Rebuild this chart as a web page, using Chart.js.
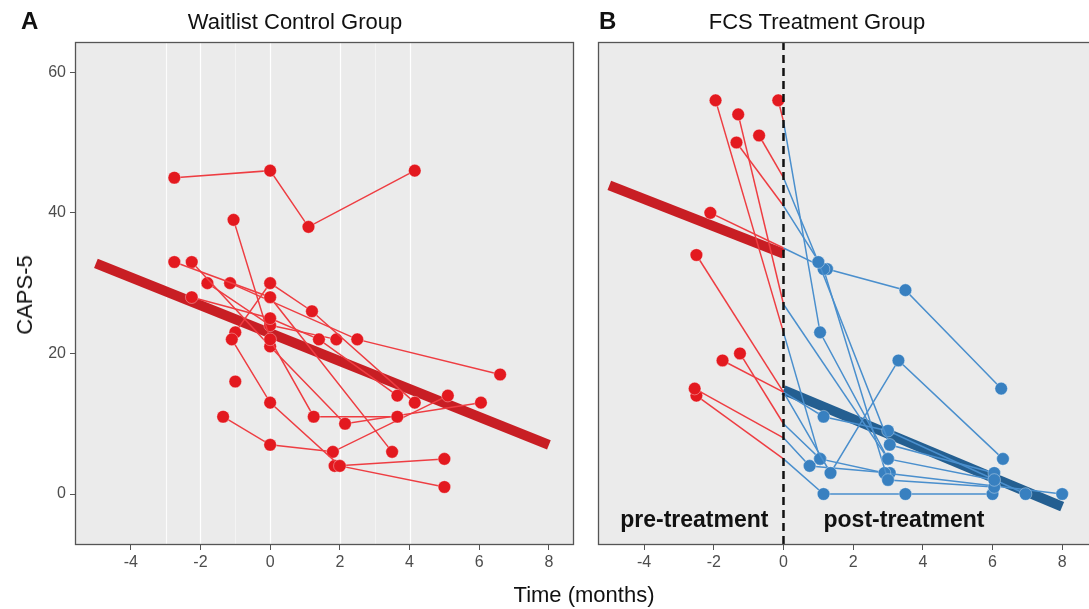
<!DOCTYPE html>
<html>
<head>
<meta charset="utf-8">
<script src="https://cdn.jsdelivr.net/npm/chart.js@4.4.0/dist/chart.umd.min.js"></script>
<style>
  html, body { margin: 0; padding: 0; background: #fff; width: 1089px; height: 609px; overflow: hidden;
    font-family: "Liberation Sans", Arial, sans-serif; }
  .wrap { position: absolute; top: 0; height: 609px; }
  .lbl { position: absolute; white-space: nowrap; color: #111; line-height: 1; }
</style>
</head>
<body>
<div class="wrap" style="left:0;width:580px"><canvas id="ctrl"></canvas></div>
<div class="wrap" style="left:597px;width:500px"><canvas id="fcs"></canvas></div>

<div class="lbl" style="left:21px;top:9px;font-weight:bold;font-size:24px">A</div>
<div class="lbl" style="left:295px;top:11px;font-size:22px;transform:translateX(-50%)">Waitlist Control Group</div>
<div class="lbl" style="left:599px;top:9px;font-weight:bold;font-size:24px">B</div>
<div class="lbl" style="left:817px;top:11px;font-size:22px;transform:translateX(-50%)">FCS Treatment Group</div>
<div class="lbl" style="left:25px;top:295px;font-size:22px;transform:translate(-50%,-50%) rotate(-90deg)">CAPS-5</div>
<div class="lbl" style="left:584px;top:584px;font-size:22px;transform:translateX(-50%)">Time (months)</div>

<script>
// ── values ─────────────────────────────────────────────────────
const xTicks = [-4, -2, 0, 2, 4, 6, 8];
const yTicks = [0, 20, 40, 60];

// faint white vertical rules that show in panel A
const waitlistGridX = [-3, -2, -1, 0, 2, 3, 4];
const waitlistGridAlpha = [0.85, 1, 0.45, 1, 1, 0.45, 1];

// Waitlist control: one array of [months, CAPS-5] per participant
const waitlistSubjects = [
  [[-2.75, 45], [0, 46], [1.1, 38], [4.15, 46]],
  [[-1.05, 39], [0, 22], [1.25, 11], [3.65, 11]],
  [[-1.1, 22], [0, 13], [2.0, 4], [5, 1]],
  [[-1.35, 11], [0, 7], [1.8, 6], [5.1, 14]],
  [[-1, 16]],
  [[-1, 23], [0, 30], [1.2, 26], [4.15, 13]],
  [[-2.25, 28], [0, 25], [1.4, 22], [3.65, 14]],
  [[-2.75, 33], [0, 28], [3.5, 6]],
  [[-2.25, 33], [0, 21], [2.15, 10], [6.05, 13]],
  [[-1.8, 30], [0, 24], [1.9, 22]],
  [[-1.15, 30], [2.5, 22], [6.6, 17]],
  [[1.85, 4], [5, 5]],
];
const waitlistFit = [[-5, 32.8], [8, 7.0]];

// FCS group: pre-treatment (red) runs up to the treatment start at 0
const fcsPreSubjects = [
  [[-1.95, 56], [0, 23]],
  [[-0.15, 56], [0, 53]],
  [[-1.3, 54], [0, 27]],
  [[-0.7, 51], [0, 45]],
  [[-1.35, 50], [0, 41]],
  [[-2.1, 40], [0, 35]],
  [[-2.5, 34], [0, 14.5]],
  [[-1.75, 19], [0, 14.5]],
  [[-1.25, 20], [0, 10]],
  [[-2.55, 15], [0, 8]],
  [[-2.5, 14], [0, 5]],
];
// post-treatment (blue) from treatment start on
const fcsPostSubjects = [
  [[0, 53], [1.05, 23], [3.0, 5], [6.05, 2]],
  [[0, 45], [1.0, 33], [3.05, 7], [6.05, 3]],
  [[0, 41], [1.15, 32], [3.0, 2], [6.05, 1]],
  [[0, 35], [1.25, 32], [3.5, 29], [6.25, 15]],
  [[0, 14.5], [1.15, 11], [3.0, 9], [6.95, 0]],
  [[0, 14.5], [1.35, 3], [3.3, 19], [6.3, 5]],
  [[0, 10], [1.05, 5], [2.9, 3], [8, 0]],
  [[0, 8], [0.75, 4], [3.05, 3]],
  [[0, 5], [1.15, 0], [3.5, 0], [6.0, 0]],
  [[0, 23], [1.05, 5]],
  [[0, 27], [3.0, 5]],
];
const fcsPreFit = [[-5, 43.9], [0, 34.2]];
const fcsPostFit = [[0, 14.8], [8, -1.8]];

// ── styling ────────────────────────────────────────────────────
const RED = "#E3191F", RED_LINE = "#EE3D42", RED_FIT = "#C81E24";
const BLUE = "#3880C0", BLUE_LINE = "#4A8FCD", BLUE_FIT = "#245F91";
const FONT = '"Liberation Sans", Arial, sans-serif';
Chart.defaults.font.family = FONT;

function subjectSets(list, dot, line, hideStart) {
  return list.map((pts) => ({
    data: pts.map(([x, y]) => ({ x, y })),
    showLine: true,
    borderColor: line,
    borderWidth: 1.5,
    backgroundColor: dot,
    pointBorderColor: "rgba(255,255,255,0.35)",
    pointBorderWidth: 1,
    // treatment-start anchors in panel B carry no dot
    pointRadius: pts.map(([x]) => (hideStart && x === 0 ? 0 : 6.3)),
    order: 0,
  }));
}

function fitSet(pts, color) {
  return {
    data: pts.map(([x, y]) => ({ x, y })),
    showLine: true,
    borderColor: color,
    borderWidth: 10,
    pointRadius: 0,
    order: 1,
  };
}

const panelPlugin = {
  id: "panel",
  beforeDraw(chart, args, opts) {
    const { ctx, chartArea: a } = chart;
    const xs = chart.scales.x;
    ctx.save();
    ctx.fillStyle = "#EBEBEB";
    ctx.fillRect(a.left, a.top, a.right - a.left, a.bottom - a.top);
    (opts.gridX || []).forEach((v, i) => {
      const px = Math.round(xs.getPixelForValue(v)) + 0.5;
      ctx.strokeStyle = `rgba(255,255,255,${opts.gridAlpha[i]})`;
      ctx.lineWidth = 1.2;
      ctx.beginPath();
      ctx.moveTo(px, a.top);
      ctx.lineTo(px, a.bottom);
      ctx.stroke();
    });
    ctx.restore();
  },
  afterDatasetsDraw(chart, args, opts) {
    const { ctx, chartArea: a } = chart;
    const xs = chart.scales.x, ys = chart.scales.y;
    ctx.save();
    if (opts.divider != null) {
      const px = xs.getPixelForValue(opts.divider);
      ctx.strokeStyle = "#111";
      ctx.lineWidth = 2.5;
      ctx.setLineDash([8, 5]);
      ctx.beginPath();
      ctx.moveTo(px, a.top);
      ctx.lineTo(px, a.bottom);
      ctx.stroke();
      ctx.setLineDash([]);
    }
    (opts.notes || []).forEach((n) => {
      ctx.font = `bold 23px ${FONT}`;
      ctx.fillStyle = "#111";
      ctx.textAlign = "center";
      ctx.textBaseline = "middle";
      ctx.fillText(n.text, xs.getPixelForValue(n.x), ys.getPixelForValue(n.y));
    });
    ctx.restore();
  },
  afterDraw(chart) {
    const { ctx, chartArea: a } = chart;
    ctx.save();
    ctx.strokeStyle = "#555";
    ctx.lineWidth = 1.3;
    ctx.strokeRect(a.left + 0.5, a.top + 0.5, a.right - a.left - 1, a.bottom - a.top - 1);
    ctx.restore();
  },
};

function axes(xMin, xMax, showY, yWidth) {
  const tickGrid = { drawOnChartArea: false, drawTicks: true, tickLength: 5, color: "#555", lineWidth: 1 };
  return {
    x: {
      type: "linear", min: xMin, max: xMax,
      afterBuildTicks: (s) => { s.ticks = xTicks.map((v) => ({ value: v })); },
      afterFit: (s) => { s.height = 64; },
      ticks: { color: "#4D4D4D", font: { size: 16 }, padding: 3, maxRotation: 0, autoSkip: false },
      grid: tickGrid,
      border: { display: false },
    },
    y: {
      type: "linear", min: -7.25, max: 64.3, display: showY,
      afterBuildTicks: (s) => { s.ticks = yTicks.map((v) => ({ value: v })); },
      afterFit: (s) => { s.width = yWidth; },
      ticks: { color: "#4D4D4D", font: { size: 16 }, padding: 4 },
      grid: tickGrid,
      border: { display: false },
    },
  };
}

new Chart(document.getElementById("ctrl"), {
  type: "scatter",
  data: { datasets: [...subjectSets(waitlistSubjects, RED, RED_LINE, false), fitSet(waitlistFit, RED_FIT)] },
  options: {
    responsive: true, maintainAspectRatio: false, animation: false,
    layout: { autoPadding: false, padding: { top: 42, right: 6, left: 0, bottom: 0 } },
    scales: axes(-5.6, 8.72, true, 75),
    plugins: {
      legend: { display: false }, tooltip: { enabled: false },
      panel: { gridX: waitlistGridX, gridAlpha: waitlistGridAlpha },
    },
  },
  plugins: [panelPlugin],
});

new Chart(document.getElementById("fcs"), {
  type: "scatter",
  data: {
    datasets: [
      ...subjectSets(fcsPreSubjects, RED, RED_LINE, true),
      ...subjectSets(fcsPostSubjects, BLUE, BLUE_LINE, true),
      fitSet(fcsPreFit, RED_FIT),
      fitSet(fcsPostFit, BLUE_FIT),
    ],
  },
  options: {
    responsive: true, maintainAspectRatio: false, animation: false,
    layout: { autoPadding: false, padding: { top: 42, right: 0, left: 1, bottom: 0 } },
    scales: axes(-5.325, 9.0, false, 0),
    plugins: {
      legend: { display: false }, tooltip: { enabled: false },
      panel: {
        divider: 0,
        notes: [
          { text: "pre-treatment", x: -2.56, y: -3.84 },
          { text: "post-treatment", x: 3.46, y: -3.84 },
        ],
      },
    },
  },
  plugins: [panelPlugin],
});
</script>
</body>
</html>
